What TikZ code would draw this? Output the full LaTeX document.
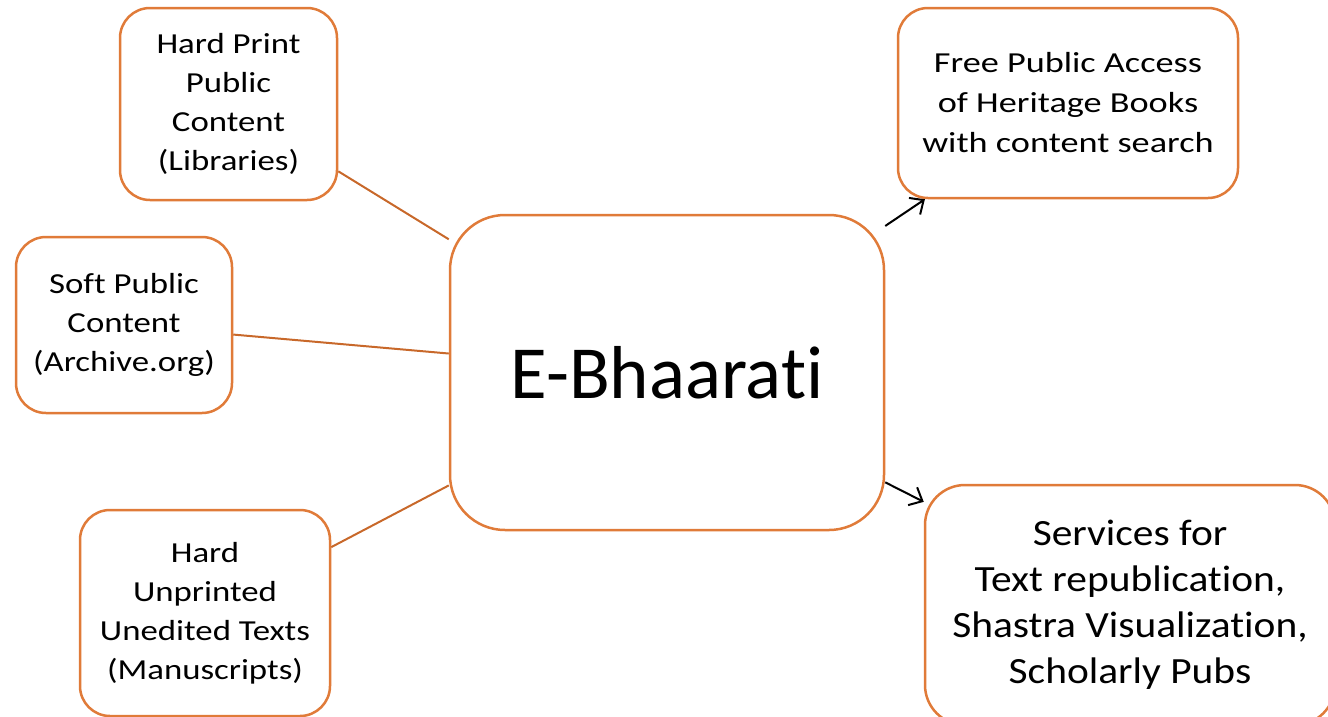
\documentclass[tikz,border=0pt]{standalone}
\usepackage{fontspec}
\setmainfont{Carlito}[Ligatures=NoCommon]
\newfontfamily\fuenteizq{Carlito}[Ligatures=NoCommon,FakeStretch=1.2]
\newfontfamily\fuenteder{Carlito}[Ligatures=NoCommon,FakeStretch=1.25]
\newfontfamily\fuenteserv{Carlito}[Ligatures=NoCommon,FakeStretch=1.12]
\usetikzlibrary{arrows.meta}
\definecolor{naranja}{HTML}{E07B39}
\definecolor{naranjaosc}{HTML}{C8682A}

\begin{document}
\begin{tikzpicture}[x=1pt,y=-1pt,
  caja/.style={draw=naranja,line width=2.5pt,rounded corners=30pt,align=center,inner sep=0pt,
    font=\fuenteizq\fontsize{29}{39}\selectfont},
  enlace/.style={draw=naranjaosc,line width=2pt},
  flecha/.style={line width=2pt,-{Straight Barb[length=11pt,width=20pt]}}]
  \useasboundingbox (0,0) rectangle (1328,716);

  % Fuentes de contenido (izquierda)
  \node[caja,minimum width=217pt,minimum height=192pt] (impreso) at (228.5,104)
    {Hard Print\\Public\\Content\\(Libraries)};
  \node[caja,minimum width=216pt,minimum height=176pt] (suave) at (124,325)
    {Soft Public\\Content\\(Archive.org)};
  \node[caja,minimum width=250pt,minimum height=206pt] (manuscrito) at (205,613)
    {Hard\\Unprinted\\Unedited Texts\\(Manuscripts)};

  % Nodo central
  \node[caja,rounded corners=55pt,minimum width=434pt,minimum height=315pt,
    font=\fontsize{75}{90}\selectfont] (central) at (667,372.5) {E-Bhaarati};

  % Resultados (derecha)
  \node[caja,minimum width=340pt,minimum height=190pt,
    font=\fuenteder\fontsize{29}{40}\selectfont] (acceso) at (1068,103)
    {Free Public Access\\of Heritage Books\\with content search};
  \node[caja,rounded corners=40pt,minimum width=410pt,minimum height=240pt,
    font=\fuenteserv\fontsize{37}{46}\selectfont] (servicios) at (1130,605)
    {Services for\\Text republication,\\Shastra Visualization,\\Scholarly Pubs};

  % Enlaces
  \draw[enlace] (impreso) -- (central);
  \draw[enlace] (suave) -- (central);
  \draw[enlace] (manuscrito) -- (central);
  \draw[flecha] (central) -- (acceso);
  \draw[flecha] (central) -- (servicios);
\end{tikzpicture}
\end{document}
